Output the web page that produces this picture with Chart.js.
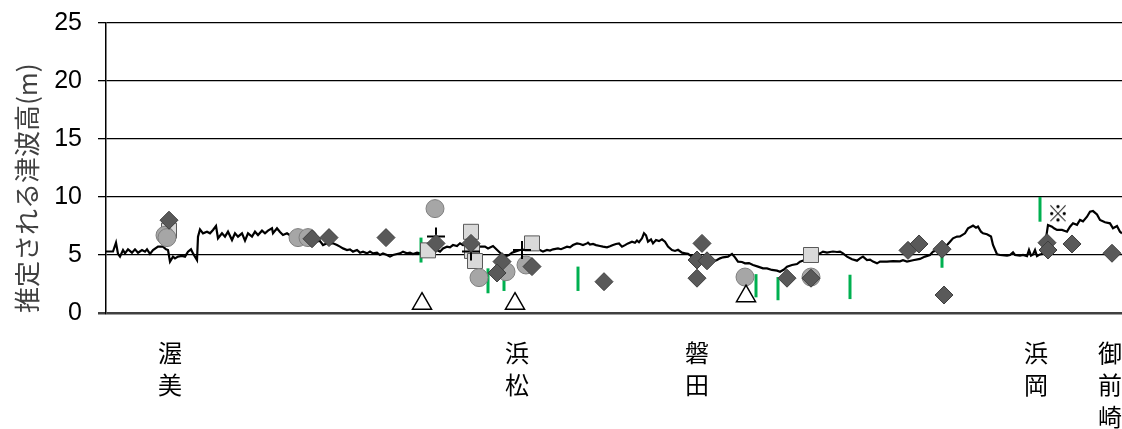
<!DOCTYPE html>
<html><head><meta charset="utf-8">
<script src="https://cdn.jsdelivr.net/npm/chart.js@4.4.0/dist/chart.umd.min.js"></script>
<style>html,body{margin:0;padding:0;background:#fff}#wrap{width:1122px;height:429px}</style>
</head><body><div id="wrap"><canvas id="c" width="1122" height="429"></canvas></div>
<script>
// x = position along the coast (arbitrary distance units, west -> east)
const placeTicks = [64, 411, 591, 930, 1004];
const placeLabels = [['渥','美'],['浜','松'],['磐','田'],['浜','岡'],['御','前','崎']];
const yTicks = [0, 5, 10, 15, 20, 25];

const lineX = [0,7,10,12,14,17,19,22,26,29,32,36,39,41,44,47,52,57,60,62,64,67,69,72,76,79,82,85,87,91,92,94,97,101,104,107,110,112,116,119,122,126,129,132,136,139,142,146,149,152,156,159,162,166,167,171,174,177,181,186,192,198,204,210,214,217,221,227,231,234,237,241,244,247,251,254,257,261,264,267,271,274,277,281,284,287,291,294,297,301,304,307,311,314,319,324,331,334,337,341,344,347,351,354,357,362,367,374,379,382,387,394,397,400,403,406,409,414,421,427,434,437,441,444,447,452,455,461,464,467,471,474,477,481,482,484,487,490,494,497,501,504,507,510,513,516,519,522,526,529,531,533,536,538,540,542,545,547,550,553,556,559,562,566,569,572,576,579,582,586,589,591,596,601,607,611,614,617,622,626,629,632,636,639,643,647,652,657,661,666,671,674,678,681,686,691,694,698,705,710,714,717,721,724,727,731,734,737,741,746,751,754,757,761,764,767,771,774,781,787,794,797,801,807,814,819,824,827,834,841,844,847,851,854,859,862,865,867,870,872,875,877,881,885,887,891,894,901,904,907,909,914,917,921,923,925,927,929,931,934,937,940,942,946,948,951,956,961,964,967,971,974,977,981,984,987,991,994,999,1004,1007,1011,1014,1016];
const lineY = [5.3,5.3,6.06,5.1,4.86,5.43,5.14,5.49,5.2,5.49,5.2,5.43,5.29,5.49,5.1,5.43,5.72,5.72,5.49,5.43,4.43,4.86,4.71,4.86,4.92,4.86,5.29,5.49,5.14,4.57,6.58,7.21,6.87,7.01,6.87,7.16,7.5,6.44,6.87,6.58,7.01,6.29,6.87,6.58,6.87,6.24,6.87,6.58,7.01,6.72,7.1,6.87,7.1,7.3,6.87,7.3,6.98,6.72,6.87,6.58,6.5,6.4,6.3,6.2,6.2,5.86,6.01,6.01,5.86,5.72,5.57,5.43,5.49,5.29,5.43,5.2,5.29,5.14,5.29,5.14,5.2,5.0,5.14,5.0,4.86,5.0,5.09,5.14,5.29,5.14,5.2,5.09,5.2,5.14,5.3,5.35,5.43,5.29,5.57,5.72,5.66,5.86,5.78,6.01,5.86,5.9,5.75,5.72,5.72,5.57,5.78,5.2,4.95,4.9,5.0,5.2,5.29,5.43,5.49,5.45,5.43,5.29,5.43,5.38,5.49,5.57,5.5,5.72,5.66,5.86,6.0,5.95,5.86,6.0,6.06,5.9,5.95,5.85,5.78,5.72,5.66,5.75,5.86,5.95,6.0,5.72,5.85,6.0,6.15,6.05,6.24,6.1,6.44,6.87,6.7,6.15,6.35,6.0,6.29,6.2,6.35,6.15,5.72,5.43,5.35,5.45,5.2,5.15,5.1,4.86,4.57,4.6,4.5,4.45,4.43,4.57,4.71,4.8,4.86,5.09,4.8,4.43,4.4,4.28,4.3,4.14,4.0,3.85,3.85,3.71,3.65,3.56,3.75,4.0,4.14,4.22,4.43,4.55,4.9,5.0,5.14,5.29,5.2,5.26,5.3,5.26,5.29,5.14,4.86,4.63,4.51,4.71,4.86,4.57,4.6,4.43,4.28,4.43,4.43,4.48,4.45,4.55,4.43,4.55,4.66,4.86,5.0,5.29,5.57,5.86,6.15,6.44,6.59,6.6,6.87,7.3,7.44,7.53,7.35,7.45,7.01,6.87,6.79,6.6,5.86,5.06,5.0,4.95,5.0,5.23,5.0,4.95,5.0,4.9,5.43,4.95,5.05,5.43,4.9,5.05,5.1,6.44,7.59,7.44,7.3,7.16,7.16,7.01,7.44,7.73,7.6,8.02,7.9,8.3,8.73,8.79,8.5,8.02,7.82,7.73,7.3,7.5,7.01,6.87];

const diamondX = [63,206,223,280,330,365,396,391,426,498,596,591,601,591,681,705,802,813,836,838,941,942,966,1006];
const diamondY = [8.0,6.4,6.5,6.5,6.0,6.0,4.43,3.45,4.0,2.7,6.0,4.57,4.5,3.0,3.0,3.0,5.4,5.95,5.5,1.55,6.06,5.43,5.95,5.15];
const circleX = [59,61,192,202,329,373,400,420,639,705];
const circleY = [6.7,6.5,6.5,6.5,9.0,3.05,3.56,4.14,3.1,3.1];
const squareX = [63,322,365,366,369,426,705];
const squareY = [7.1,5.4,7.0,5.35,4.48,6.0,5.0];
const plusX = [330,365,416];
const plusY = [6.6,5.3,5.43];
const triangleX = [316,409,640];
const triangleY = [0.8,0.8,1.45];
const komeX = [952];
const komeY = [8.6];
const rangeX = [315,382,398,472,650,672,744,836,934];
const rangeLow = [4.35,1.7,1.9,1.9,1.35,1.1,1.2,3.9,7.87];
const rangeHigh = [6.5,3.85,3.0,4.0,3.35,3.1,3.3,4.85,10.0];

const pts = (xs, ys) => xs.map((x, i) => ({x, y: ys[i]}));

function komeImage() {
  const c = document.createElement('canvas');
  c.width = 26; c.height = 26;
  const g = c.getContext('2d');
  g.fillStyle = '#000';
  g.font = '22px "Noto Sans CJK JP"';
  g.textAlign = 'center';
  g.textBaseline = 'middle';
  g.fillText('※', 13, 13);
  return c;
}

const datasets = [];
datasets.push({label:'推定', data: pts(lineX, lineY), showLine:true, borderColor:'#000', borderWidth:2.2, pointRadius:0, tension:0, order:20});
rangeX.forEach((x, i) => datasets.push({label:'range'+i, data:[{x, y:rangeLow[i]},{x, y:rangeHigh[i]}], showLine:true, borderColor:'#00b050', borderWidth:3, borderCapStyle:'butt', pointRadius:0, order:15}));
datasets.push({label:'square', data: pts(squareX, squareY), pointStyle:'rect', pointRadius:10.6, backgroundColor:'#d9d9d9', borderColor:'#595959', borderWidth:1, order:12});
datasets.push({label:'circle', data: pts(circleX, circleY), pointStyle:'circle', pointRadius:9, backgroundColor:'#a6a6a6', borderColor:'#7f7f7f', borderWidth:1, order:11});
datasets.push({label:'plus', data: pts(plusX, plusY), pointStyle:'cross', pointRadius:9, borderColor:'#000', borderWidth:2, order:10});
datasets.push({label:'diamond', data: pts(diamondX, diamondY), pointStyle:'rectRot', pointRadius:9, backgroundColor:'#595959', borderColor:'#3f3f3f', borderWidth:1, order:9});
datasets.push({label:'triangle', data: pts(triangleX, triangleY), pointStyle:'triangle', pointRadius:11, backgroundColor:'#fff', borderColor:'#000', borderWidth:1.5, order:8});
datasets.push({label:'kome', data: pts(komeX, komeY), pointStyle: komeImage(), pointRadius:13, order:7});

new Chart(document.getElementById('c'), {
  type: 'scatter',
  data: { datasets },
  options: {
    responsive: false, animation: false, events: [],
    layout: { autoPadding: false, padding: { top: 23, right: 0, bottom: 0, left: 0 } },
    plugins: { legend: { display: false }, tooltip: { enabled: false } },
    scales: {
      x: {
        type: 'linear', min: 0, max: 1016,
        grid: { display: false, drawTicks: true, tickLength: 24 },
        border: { display: false },
        afterBuildTicks: s => { s.ticks = placeTicks.map(v => ({ value: v })); },
        afterFit: s => { s.height = 116; s.paddingLeft = 0; s.paddingRight = 0; },
        ticks: {
          autoSkip: false, maxRotation: 0, minRotation: 0, padding: 0, color: '#000',
          font: { family: '"Noto Sans CJK JP"', size: 24, lineHeight: 1.3333 },
          callback: (v, i) => placeLabels[i]
        }
      },
      y: {
        min: 0, max: 25,
        afterBuildTicks: s => { s.ticks = yTicks.map(v => ({ value: v })); },
        afterFit: s => { s.width = 106; s.paddingTop = 0; s.paddingBottom = 0; },
        grid: {
          color: c => c.tick && c.tick.value === 0 ? '#404040' : '#000',
          lineWidth: c => c.tick && c.tick.value === 0 ? 2.5 : 1.3,
          tickLength: 8, drawTicks: true
        },
        border: { display: true, color: '#000', width: 1.5 },
        ticks: {
          padding: 16, color: '#000',
          font: { family: '"Liberation Sans Narrow", "Arial Narrow", "Liberation Sans", sans-serif', size: 25 }
        },
        title: {
          display: true, text: '推定される津波高(m)', align: 'start', color: '#404040',
          font: { family: '"Noto Sans CJK JP"', size: 26 },
          padding: { top: 12, bottom: 0 }
        }
      }
    }
  }
});
</script>
</body></html>
